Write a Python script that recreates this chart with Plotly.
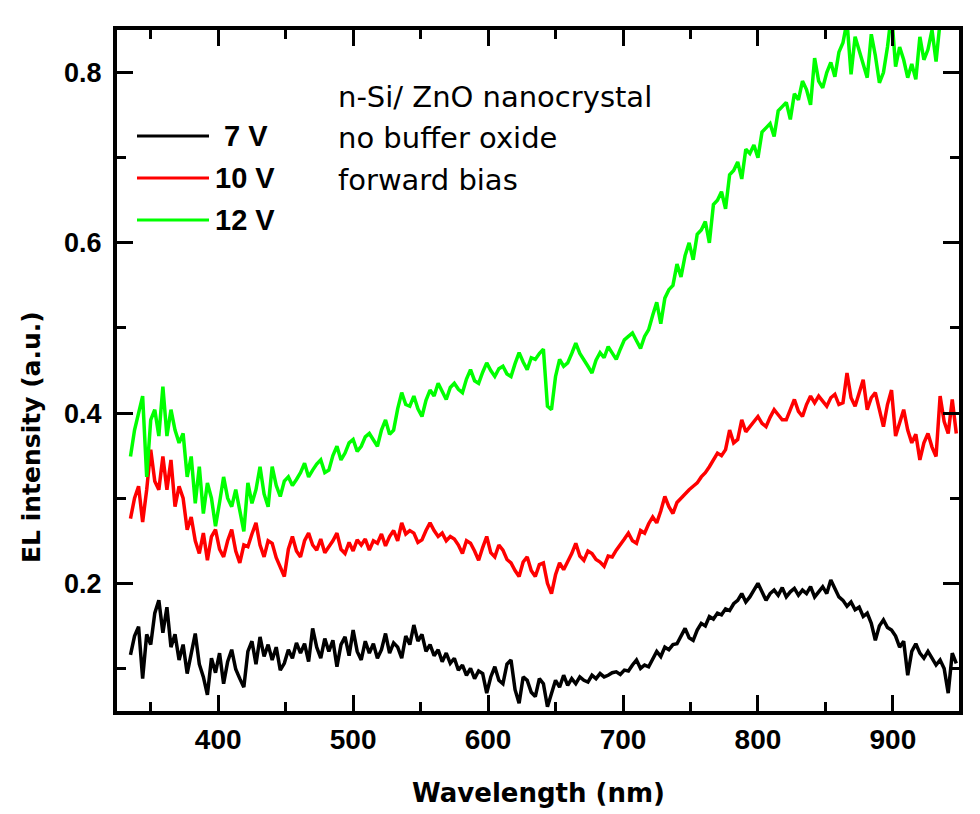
import plotly.graph_objects as go

# Electroluminescence spectra of an n-Si / ZnO nanocrystal diode (forward bias),
# sampled every 3 nm.
wavelength = [
    335, 338, 341, 344, 347, 350, 353, 356, 359, 362, 365, 368, 371, 374, 377, 380, 383, 386, 389, 392,
    395, 398, 401, 404, 407, 410, 413, 416, 419, 422, 425, 428, 431, 434, 437, 440, 443, 446, 449, 452,
    455, 458, 461, 464, 467, 470, 473, 476, 479, 482, 485, 488, 491, 494, 497, 500, 503, 506, 509, 512,
    515, 518, 521, 524, 527, 530, 533, 536, 539, 542, 545, 548, 551, 554, 557, 560, 563, 566, 569, 572,
    575, 578, 581, 584, 587, 590, 593, 596, 599, 602, 605, 608, 611, 614, 617, 620, 623, 626, 629, 632,
    635, 638, 641, 644, 647, 650, 653, 656, 659, 662, 665, 668, 671, 674, 677, 680, 683, 686, 689, 692,
    695, 698, 701, 704, 707, 710, 713, 716, 719, 722, 725, 728, 731, 734, 737, 740, 743, 746, 749, 752,
    755, 758, 761, 764, 767, 770, 773, 776, 779, 782, 785, 788, 791, 794, 797, 800, 803, 806, 809, 812,
    815, 818, 821, 824, 827, 830, 833, 836, 839, 842, 845, 848, 851, 854, 857, 860, 863, 866, 869, 872,
    875, 878, 881, 884, 887, 890, 893, 896, 899, 902, 905, 908, 911, 914, 917, 920, 923, 926, 929, 932,
    935, 938, 941, 944, 947]

el_7v = [
    0.116, 0.138, 0.149, 0.088, 0.140, 0.128, 0.165, 0.180, 0.142, 0.172,
    0.125, 0.140, 0.110, 0.128, 0.094, 0.118, 0.141, 0.105, 0.090, 0.069,
    0.112, 0.095, 0.118, 0.082, 0.108, 0.122, 0.099, 0.088, 0.078, 0.120,
    0.132, 0.105, 0.137, 0.114, 0.128, 0.110, 0.125, 0.098, 0.106, 0.122,
    0.112, 0.130, 0.118, 0.129, 0.108, 0.147, 0.125, 0.112, 0.135, 0.120,
    0.133, 0.102, 0.128, 0.137, 0.115, 0.145, 0.120, 0.110, 0.132, 0.118,
    0.129, 0.112, 0.122, 0.141, 0.118, 0.130, 0.125, 0.112, 0.138, 0.128,
    0.151, 0.132, 0.140, 0.120, 0.128, 0.115, 0.122, 0.108, 0.118, 0.106,
    0.112, 0.098, 0.104, 0.092, 0.100, 0.088, 0.097, 0.094, 0.071, 0.090,
    0.102, 0.086, 0.082, 0.105, 0.110, 0.075, 0.059, 0.090, 0.086, 0.072,
    0.067, 0.088, 0.082, 0.055, 0.070, 0.086, 0.078, 0.092, 0.080, 0.088,
    0.082, 0.090, 0.086, 0.084, 0.092, 0.088, 0.094, 0.090, 0.092, 0.095,
    0.096, 0.093, 0.098, 0.097, 0.104, 0.110, 0.100, 0.104, 0.102, 0.112,
    0.120, 0.114, 0.125, 0.122, 0.128, 0.129, 0.138, 0.147, 0.136, 0.133,
    0.145, 0.153, 0.150, 0.161, 0.158, 0.165, 0.163, 0.170, 0.168, 0.176,
    0.180, 0.188, 0.178, 0.184, 0.192, 0.200, 0.190, 0.180, 0.188, 0.192,
    0.186, 0.195, 0.184, 0.190, 0.194, 0.186, 0.192, 0.188, 0.196, 0.184,
    0.190, 0.196, 0.188, 0.204, 0.194, 0.184, 0.180, 0.173, 0.178, 0.169,
    0.172, 0.161, 0.165, 0.153, 0.133, 0.150, 0.157, 0.148, 0.145, 0.138,
    0.125, 0.132, 0.092, 0.120, 0.129, 0.118, 0.112, 0.120, 0.112, 0.104,
    0.110, 0.100, 0.071, 0.118, 0.106]

el_10v = [
    0.276, 0.300, 0.314, 0.272, 0.310, 0.357, 0.320, 0.310, 0.349, 0.310,
    0.345, 0.290, 0.314, 0.300, 0.263, 0.278, 0.250, 0.235, 0.259, 0.227,
    0.255, 0.263, 0.240, 0.231, 0.250, 0.263, 0.238, 0.224, 0.245, 0.243,
    0.258, 0.271, 0.245, 0.231, 0.250, 0.247, 0.230, 0.220, 0.208, 0.240,
    0.255, 0.238, 0.231, 0.250, 0.259, 0.245, 0.239, 0.252, 0.236, 0.243,
    0.250, 0.259, 0.240, 0.235, 0.248, 0.238, 0.251, 0.245, 0.252, 0.239,
    0.250, 0.247, 0.258, 0.244, 0.255, 0.262, 0.250, 0.271, 0.258, 0.262,
    0.259, 0.248, 0.251, 0.262, 0.271, 0.262, 0.255, 0.259, 0.250, 0.255,
    0.252, 0.245, 0.235, 0.250, 0.247, 0.238, 0.227, 0.242, 0.255, 0.236,
    0.231, 0.245, 0.239, 0.228, 0.224, 0.215, 0.208, 0.225, 0.231, 0.215,
    0.208, 0.222, 0.224, 0.200, 0.188, 0.210, 0.224, 0.216, 0.225, 0.235,
    0.247, 0.232, 0.227, 0.238, 0.235, 0.228, 0.225, 0.220, 0.232, 0.231,
    0.239, 0.245, 0.252, 0.259, 0.250, 0.247, 0.262, 0.259, 0.270, 0.278,
    0.271, 0.285, 0.302, 0.290, 0.282, 0.295, 0.300, 0.306, 0.310, 0.314,
    0.318, 0.325, 0.330, 0.337, 0.345, 0.353, 0.350, 0.357, 0.380, 0.365,
    0.369, 0.392, 0.378, 0.384, 0.390, 0.396, 0.388, 0.384, 0.395, 0.404,
    0.398, 0.392, 0.392, 0.405, 0.416, 0.402, 0.396, 0.410, 0.420, 0.412,
    0.420, 0.414, 0.408, 0.418, 0.422, 0.410, 0.412, 0.447, 0.418, 0.408,
    0.425, 0.439, 0.404, 0.418, 0.424, 0.405, 0.384, 0.410, 0.427, 0.373,
    0.390, 0.404, 0.380, 0.365, 0.375, 0.345, 0.365, 0.376, 0.360, 0.349,
    0.420, 0.390, 0.376, 0.416, 0.376]

el_12v = [
    0.349, 0.380, 0.400, 0.420, 0.325, 0.392, 0.404, 0.373, 0.431, 0.373,
    0.404, 0.380, 0.365, 0.376, 0.325, 0.349, 0.294, 0.337, 0.282, 0.318,
    0.300, 0.267, 0.295, 0.325, 0.300, 0.290, 0.310, 0.285, 0.261, 0.318,
    0.294, 0.310, 0.337, 0.305, 0.290, 0.337, 0.315, 0.302, 0.320, 0.325,
    0.315, 0.322, 0.330, 0.341, 0.325, 0.333, 0.340, 0.345, 0.330, 0.333,
    0.350, 0.361, 0.345, 0.353, 0.365, 0.369, 0.355, 0.361, 0.372, 0.376,
    0.368, 0.361, 0.380, 0.392, 0.375, 0.380, 0.405, 0.424, 0.410, 0.408,
    0.420, 0.405, 0.396, 0.415, 0.427, 0.420, 0.435, 0.425, 0.416, 0.430,
    0.435, 0.428, 0.424, 0.440, 0.451, 0.438, 0.435, 0.448, 0.459, 0.450,
    0.443, 0.452, 0.455, 0.446, 0.443, 0.458, 0.471, 0.460, 0.451, 0.465,
    0.463, 0.470, 0.475, 0.408, 0.404, 0.443, 0.463, 0.455, 0.459, 0.470,
    0.482, 0.470, 0.463, 0.455, 0.447, 0.462, 0.471, 0.465, 0.478, 0.470,
    0.463, 0.475, 0.486, 0.490, 0.494, 0.485, 0.476, 0.490, 0.498, 0.515,
    0.530, 0.505, 0.535, 0.545, 0.550, 0.575, 0.560, 0.585, 0.600, 0.580,
    0.610, 0.615, 0.625, 0.600, 0.645, 0.650, 0.660, 0.640, 0.680, 0.685,
    0.695, 0.675, 0.710, 0.705, 0.715, 0.700, 0.730, 0.735, 0.740, 0.725,
    0.755, 0.760, 0.765, 0.745, 0.775, 0.768, 0.790, 0.780, 0.762, 0.817,
    0.790, 0.782, 0.800, 0.812, 0.795, 0.824, 0.835, 0.860, 0.798, 0.842,
    0.825, 0.810, 0.794, 0.845, 0.820, 0.788, 0.800, 0.830, 0.870, 0.807,
    0.830, 0.815, 0.794, 0.810, 0.792, 0.842, 0.815, 0.827, 0.850, 0.813,
    0.860]

series_names = ["7 V", "10 V", "12 V"]
series_colors = ["#000000", "#ff0000", "#00ff00"]
notes = ["n-Si/ ZnO nanocrystal", "no buffer oxide", "forward bias"]

x_range = [325, 949]
y_range = [0.05, 0.85]
x_ticks = [400, 500, 600, 700, 800, 900]
x_minor = [350, 450, 550, 650, 750, 850]
y_ticks = [0.2, 0.4, 0.6, 0.8]
y_minor = [0.1, 0.3, 0.5, 0.7]

fig = go.Figure()
for el, name, color in zip([el_7v, el_10v, el_12v], series_names, series_colors):
    fig.add_trace(go.Scatter(x=wavelength[:len(el)], y=el, mode="lines", name=name,
                             line=dict(color=color, width=3.5), showlegend=False))

axis_common = dict(showline=True, linewidth=4, linecolor="black", mirror="ticks",
                   ticks="inside", ticklen=16, tickwidth=3, tickcolor="black",
                   showgrid=False, zeroline=False)

fig.update_xaxes(range=x_range, tickmode="array", tickvals=x_ticks,
                 minor=dict(tickmode="array", tickvals=x_minor, ticks="inside", ticklen=9,
                            tickwidth=3, tickcolor="black"),
                 tickfont=dict(family="Liberation Sans, Arial", size=28, color="black", weight="bold"),
                 ticklabelstandoff=0, **axis_common)
fig.update_yaxes(range=y_range, tickmode="array", tickvals=y_ticks, tickformat=".1f",
                 minor=dict(tickmode="array", tickvals=y_minor, ticks="inside", ticklen=9,
                            tickwidth=3, tickcolor="black"),
                 tickfont=dict(family="Liberation Sans, Arial", size=27, color="black", weight="bold"),
                 ticklabelstandoff=6, **axis_common)

# plot box in pixels: left 117, right 959, top 30, bottom 711
L, R, T, B = 117, 959, 30, 711
W, H = R - L, B - T


def px(xp):
    return (xp - L) / W


def py(yp):
    return (B - yp) / H


annotations = [
    dict(text="Wavelength (nm)", x=px(538), y=py(793), xref="paper", yref="paper",
         xanchor="center", yanchor="middle", showarrow=False,
         font=dict(family="DejaVu Sans", size=26, color="black", weight="bold")),
    dict(text="EL intensity (a.u.)", x=px(31), y=py(437), xref="paper", yref="paper",
         xanchor="center", yanchor="middle", showarrow=False, textangle=-90,
         font=dict(family="DejaVu Sans", size=25, color="black", weight="bold")),
]

# key: short coloured strokes with bold voltage labels
legend_rows = [136, 178, 220]
label_left = [222, 213, 213]
shapes = []
for name, color, yrow, xl in zip(series_names, series_colors, legend_rows, label_left):
    shapes.append(dict(type="line", xref="paper", yref="paper", x0=px(137), x1=px(209),
                       y0=py(yrow), y1=py(yrow), line=dict(color=color, width=3)))
    annotations.append(dict(text=name, x=px(xl), y=py(yrow), xref="paper", yref="paper",
                            xanchor="left", yanchor="middle", showarrow=False,
                            font=dict(family="Liberation Sans, Arial", size=29, color="black",
                                      weight="bold")))

for note, yrow in zip(notes, [97, 138, 180]):
    annotations.append(dict(text=note, x=px(336), y=py(yrow), xref="paper", yref="paper",
                            xanchor="left", yanchor="middle", showarrow=False,
                            font=dict(family="DejaVu Sans", size=29, color="black")))

fig.update_layout(width=980, height=814, margin=dict(l=L, r=980 - R, t=T, b=814 - B),
                  paper_bgcolor="white", plot_bgcolor="white",
                  annotations=annotations, shapes=shapes, showlegend=False)

fig.write_html("out.html")
